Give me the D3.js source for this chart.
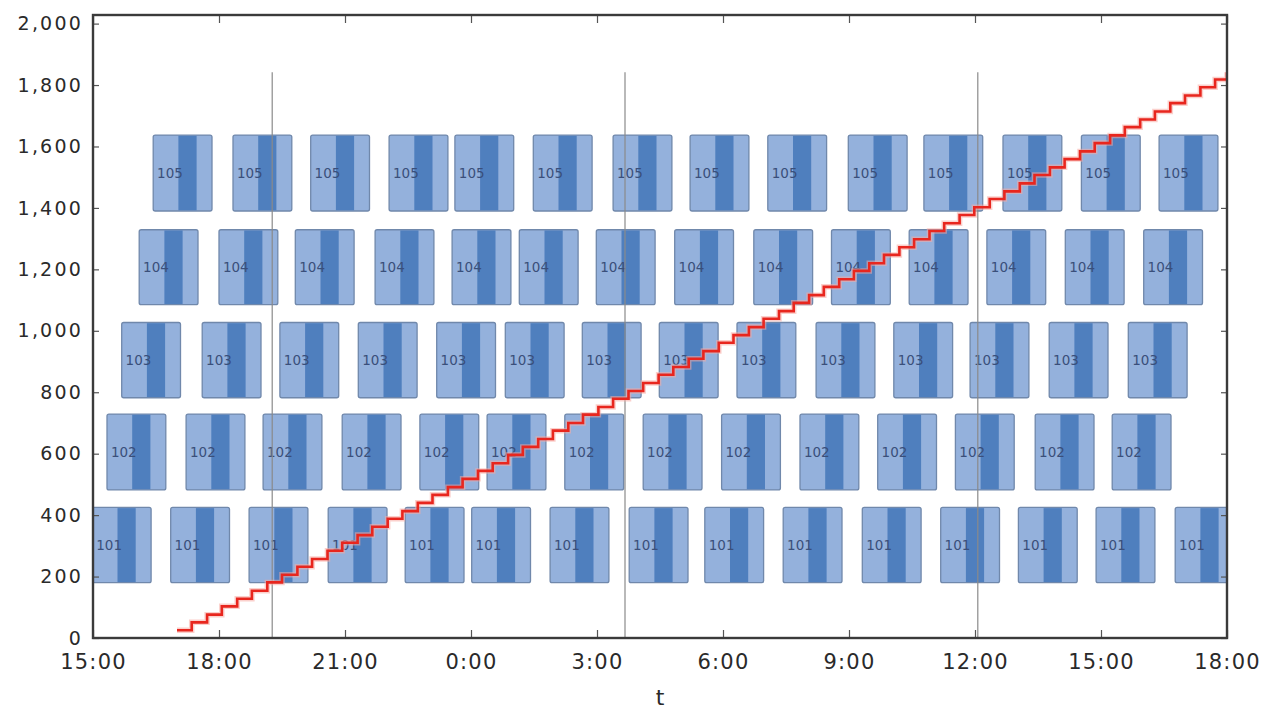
<!DOCTYPE html>
<html><head><meta charset="utf-8">
<script src="https://cdn.jsdelivr.net/npm/d3@7"></script>
<style>body{margin:0;background:#fff;} svg{display:block;}</style>
</head><body><svg id="chart" width="1278" height="709"></svg>
<script>
// ---- data (times are minutes elapsed since 15:00 on day 1) ----
const vehicles = ["101", "102", "103", "104", "105"];
const rowLow  = [180, 482, 782, 1085, 1390];
const rowHigh = [425, 729, 1027, 1329, 1637];
const starts101 = [-1, 111, 223, 336, 446, 541, 653, 766, 874, 986, 1099, 1211, 1322, 1433, 1546];
const starts102 = [20, 133, 243, 356, 467, 563, 674, 786, 898, 1010, 1121, 1232, 1346, 1456];
const starts103 = [41, 156, 267, 379, 491, 589, 699, 809, 920, 1033, 1144, 1253, 1366, 1479];
const starts104 = [66, 180, 289, 403, 513, 609, 719, 831, 944, 1055, 1166, 1277, 1389, 1501];
const starts105 = [86, 200, 311, 423, 517, 629, 743, 853, 964, 1079, 1187, 1300, 1412, 1523];
const phaseEdges = [0, 36, 62, 84];       // light | dark | light
const labelAt = 24;
const stepMinutes = [120,141,163,184,206,227,249,270,292,313,335,356,378,399,421,442,464,485,507,528,
  550,571,593,614,636,657,679,700,722,743,765,786,808,829,851,872,894,915,937,958,
  980,1001,1023,1044,1066,1087,1109,1130,1152,1173,1195,1216,1238,1259,1281,1302,1324,1345,1367,1388,
  1410,1431,1453,1474,1496,1517,1539,1560,1582,1603,1620];
const stepValues = [25,51,76,103,128,154,181,206,232,257,284,310,335,362,388,413,440,466,491,518,
  544,569,596,622,648,675,700,727,752,779,804,830,857,882,909,934,961,986,1012,1039,
  1064,1091,1116,1143,1168,1195,1220,1247,1272,1298,1325,1350,1377,1402,1429,1454,1480,1507,1532,1559,
  1584,1611,1636,1663,1688,1714,1741,1766,1793,1818,1842];
const markerMinutes = [256, 760, 1264];
const xTickMinutes = [0, 180, 360, 540, 720, 900, 1080, 1260, 1440, 1620];
const xTickLabels = ["15:00","18:00","21:00","0:00","3:00","6:00","9:00","12:00","15:00","18:00"];
const yTickValues = [0,200,400,600,800,1000,1200,1400,1600,1800,2000];
const xDomainMinutes = [0, 1620];
const yDomain = [0, 2028];
const xTitle = "t";

// ---- chart ----
const svg = d3.select("#chart");
const L = 93, R = 1227, T = 15, B = 638;
const base = new Date(2020, 0, 1, 15, 0);
const toDate = m => d3.timeMinute.offset(base, m);
const x = d3.scaleTime().domain(xDomainMinutes.map(toDate)).range([L, R]);
const y = d3.scaleLinear().domain(yDomain).range([B, T]);
const FONT = "DejaVu Sans, sans-serif";

svg.append("defs").append("clipPath").attr("id", "plot")
  .append("rect").attr("x", L).attr("y", T).attr("width", R - L).attr("height", B - T);

// blocks
const rows = [starts101, starts102, starts103, starts104, starts105];
const blocks = [];
rows.forEach((arr, i) => arr.forEach(s => blocks.push({v: vehicles[i], lo: rowLow[i], hi: rowHigh[i], s})));
const gb = svg.append("g").attr("clip-path", "url(#plot)");
const bg = gb.selectAll("g.blk").data(blocks).join("g").attr("class", "blk");
bg.append("rect")
  .attr("x", d => x(toDate(d.s + phaseEdges[0])))
  .attr("width", d => x(toDate(d.s + phaseEdges[3])) - x(toDate(d.s + phaseEdges[0])))
  .attr("y", d => y(d.hi)).attr("height", d => y(d.lo) - y(d.hi))
  .attr("rx", 2).attr("fill", "#94b1dc").attr("stroke", "#7088ab").attr("stroke-width", 1.3);
bg.append("rect")
  .attr("x", d => x(toDate(d.s + phaseEdges[1])))
  .attr("width", d => x(toDate(d.s + phaseEdges[2])) - x(toDate(d.s + phaseEdges[1])))
  .attr("y", d => y(d.hi) + 0.7).attr("height", d => y(d.lo) - y(d.hi) - 1.4)
  .attr("fill", "#4f7fbe");
bg.append("text")
  .attr("x", d => x(toDate(d.s + labelAt)))
  .attr("y", d => (y(d.lo) + y(d.hi)) / 2)
  .attr("text-anchor", "middle").attr("dominant-baseline", "central")
  .attr("font-family", FONT).attr("font-size", 13.5).attr("fill", "#3a4f7a")
  .text(d => d.v);

// vertical markers
const maxVal = d3.max(stepValues);
svg.append("g").selectAll("line").data(markerMinutes).join("line")
  .attr("x1", d => x(toDate(d))).attr("x2", d => x(toDate(d)))
  .attr("y1", y(maxVal)).attr("y2", B)
  .attr("stroke", "#8a8a8a").attr("stroke-width", 1.2);

// cumulative step line
const pts = stepMinutes.map((m, i) => ({t: toDate(m), v: stepValues[i]}));
const line = d3.line().x(d => x(d.t)).y(d => y(d.v)).curve(d3.curveStepAfter);
const gl = svg.append("g").attr("clip-path", "url(#plot)");
gl.append("path").datum(pts).attr("d", line).attr("fill", "none")
  .attr("stroke", "#f7aaa2").attr("stroke-width", 5.5).attr("stroke-opacity", 0.55);
gl.append("path").datum(pts).attr("d", line).attr("fill", "none")
  .attr("stroke", "#e8261e").attr("stroke-width", 2.6).attr("stroke-linejoin", "miter");

// axes
const xTickDates = xTickMinutes.map(toDate);
const fmtX = d => xTickLabels[xTickDates.findIndex(t => +t === +d)];
const axB = svg.append("g").attr("transform", `translate(0,${B})`)
  .call(d3.axisBottom(x).tickValues(xTickDates).tickFormat(fmtX).tickSize(-8).tickPadding(16));
const axT = svg.append("g").attr("transform", `translate(0,${T})`)
  .call(d3.axisTop(x).tickValues(xTickDates).tickFormat("").tickSize(-8));
const axL = svg.append("g").attr("transform", `translate(${L},0)`)
  .call(d3.axisLeft(y).tickValues(yTickValues).tickFormat(d3.format(",")).tickSize(-6).tickPadding(10));
const axR = svg.append("g").attr("transform", `translate(${R},0)`)
  .call(d3.axisRight(y).tickValues(yTickValues).tickFormat("").tickSize(-6));
[axB, axT, axL, axR].forEach(g => {
  g.select(".domain").remove();
  g.selectAll(".tick line").attr("stroke", "#555").attr("stroke-width", 1.2);
});
axB.selectAll("text").attr("font-family", FONT).attr("font-size", 21).attr("fill", "#2a2a2a")
  .attr("letter-spacing", 1.2);
axL.selectAll("text").attr("font-family", FONT).attr("font-size", 19).attr("fill", "#2a2a2a")
  .attr("letter-spacing", 2.2);

// frame
svg.append("rect").attr("x", L).attr("y", T).attr("width", R - L).attr("height", B - T)
  .attr("fill", "none").attr("stroke", "#3a3a3a").attr("stroke-width", 2.4);

// axis title
svg.append("text").attr("x", (L + R) / 2).attr("y", 705).attr("text-anchor", "middle")
  .attr("font-family", FONT).attr("font-size", 22).attr("fill", "#2a2a2a").text(xTitle);
</script></body></html>
